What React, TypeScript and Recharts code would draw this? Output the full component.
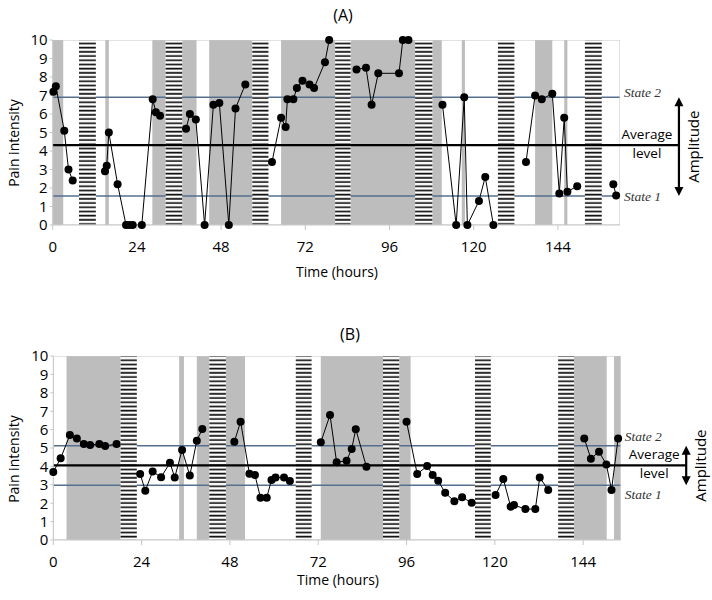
import React from 'react';
import { ComposedChart, Line, XAxis, YAxis, ReferenceArea, ReferenceLine } from 'recharts';

// ---------- shared ----------
const xTicks = [0, 24, 48, 72, 96, 120, 144];
const yTicks = [0, 1, 2, 3, 4, 5, 6, 7, 8, 9, 10];

// ---------- panel A ----------
const hoursA = [
  [0.2, 0.9, 3.3, 4.5, 5.7],
  [14.9, 15.4, 16.0, 18.5, 20.9, 21.8, 22.8, 25.4, 28.5, 29.4, 30.6],
  [38.0, 39.1, 40.8, 43.3, 45.8, 47.5, 50.2, 52.1, 54.9],
  [62.5, 65.1, 66.4, 66.9, 68.6, 69.6, 71.2, 73.2, 74.5, 77.6, 78.8],
  [86.6, 89.3, 90.9, 92.8, 98.7, 99.8, 101.4],
  [111.1, 115.0, 117.3, 118.2, 121.5, 123.3, 125.6],
  [134.9, 137.5, 139.4, 142.4, 144.4, 145.8, 146.7, 149.5],
  [159.8, 160.6],
];
const painA = [
  [7.2, 7.5, 5.1, 3.0, 2.4],
  [2.9, 3.2, 5.0, 2.2, 0, 0, 0, 0, 6.8, 6.1, 5.9],
  [5.2, 6.0, 5.7, 0, 6.5, 6.6, 0, 6.3, 7.6],
  [3.4, 5.8, 5.3, 6.8, 6.8, 7.4, 7.8, 7.6, 7.4, 8.8, 10.0],
  [8.4, 8.5, 6.5, 8.2, 8.2, 10, 10],
  [6.5, 0, 6.9, 0, 1.3, 2.6, 0],
  [3.4, 7.0, 6.8, 7.1, 1.7, 5.8, 1.8, 2.1],
  [2.2, 1.6],
];
const grayA = [
  [0, 3.0], [15.0, 16.0], [28.4, 32.2], [36.9, 41.0], [44.6, 56.9], [65.1, 80.5],
  [84.9, 103.3], [108.2, 110.9], [116.6, 117.5], [137.5, 142.4], [145.8, 146.7],
];
const hatchA = [
  [7.5, 12.3], [32.2, 36.9], [56.9, 61.5], [80.5, 84.9], [103.3, 108.2], [126.9, 131.6], [151.7, 156.5],
];
const state1A = 1.57;
const averageA = 4.32;
const state2A = 6.9;

// ---------- panel B ----------
const hoursB = [
  [0, 2.0, 4.5, 6.4, 8.3, 10.0, 12.5, 14.1, 17.2],
  [23.6, 25.0, 27.0, 29.3, 31.7, 33.0, 35.0, 37.1, 39.0, 40.5],
  [49.2, 50.9, 53.3, 54.8, 56.3, 58.0, 59.3, 60.4, 62.7, 64.3],
  [72.7, 75.2, 77.0, 79.7, 81.1, 82.2, 85.1],
  [96.0, 98.9, 101.6, 103.1, 104.6, 106.5, 109.0, 111.1, 113.7],
  [120.2, 122.3, 124.3, 125.2, 128.3, 131.0, 132.2, 134.5],
  [144.3, 146.1, 148.3, 150.3, 151.7, 153.5],
];
const painB = [
  [3.7, 4.44, 5.7, 5.52, 5.22, 5.16, 5.22, 5.11, 5.22],
  [3.59, 2.68, 3.72, 3.41, 4.2, 3.4, 4.89, 3.5, 5.4, 6.03],
  [5.34, 6.43, 3.6, 3.53, 2.3, 2.3, 3.26, 3.4, 3.4, 3.2],
  [5.31, 6.79, 4.22, 4.31, 4.95, 6.02, 3.98],
  [6.43, 3.59, 4.02, 3.53, 3.22, 2.57, 2.1, 2.32, 2.03],
  [2.45, 3.31, 1.81, 1.9, 1.68, 1.68, 3.4, 2.72],
  [5.52, 4.42, 4.8, 4.11, 2.72, 5.52],
];
const grayB = [
  [3.6, 18.3], [34.2, 35.5], [39.0, 42.4], [46.9, 52.1], [72.7, 89.6], [94.0, 97.1], [141.5, 150.4], [152.4, 154.2],
];
const hatchB = [
  [18.3, 22.7], [42.4, 46.9], [65.9, 70.2], [89.6, 94.0], [114.6, 118.9], [137.2, 141.5],
];
const state1B = 2.97;
const averageB = 4.06;
const state2B = 5.12;

// ---------- helpers ----------
function buildSeries(hours: number[][], pain: number[][]) {
  const out: { t: number; v: number | null }[] = [];
  hours.forEach((seg, i) => {
    seg.forEach((t, j) => out.push({ t, v: pain[i][j] }));
    if (i < hours.length - 1) out.push({ t: seg[seg.length - 1], v: null });
  });
  return out;
}

const FONT = "'Open Sans', sans-serif";
const GRAY = '#bdbdbd';
const FRAME = '#c6c6c6';
const STATE = '#55708f';

type PanelProps = {
  id: string;
  top: number;
  height: number;
  margin: { top: number; right: number; bottom: number; left: number };
  xMax: number;
  ampX: number;
  hours: number[][];
  pain: number[][];
  gray: number[][];
  hatch: number[][];
  s1: number;
  avg: number;
  s2: number;
  s1dy: number;
  s2dy: number;
};

function Panel(p: PanelProps) {
  const data = buildSeries(p.hours, p.pain);
  const hatchId = `hatch-${p.id}`;

  const stateLabel = (text: string, dy: number) => (props: any) => {
    const vb = props.viewBox || {};
    return (
      <text
        x={vb.x + vb.width + 4}
        y={vb.y + dy}
        dominantBaseline="central"
        fontFamily="'Liberation Serif', serif"
        fontStyle="italic"
        fontSize={13.5}
        fill="#333"
      >
        {text}
      </text>
    );
  };

  const avgLabel = (props: any) => {
    const vb = props.viewBox || {};
    const cx = vb.x + vb.width - 32;
    return (
      <g fontFamily={FONT} fontSize={13.5} fill="#000" textAnchor="middle">
        <text x={cx} y={vb.y - 11} dominantBaseline="central">Average</text>
        <text x={cx} y={vb.y + 8} dominantBaseline="central">level</text>
      </g>
    );
  };

  const ampLabel = (props: any) => {
    const vb = props.viewBox || {};
    const cx = vb.x + 14;
    const cy = vb.y + vb.height / 2;
    return (
      <text
        x={cx}
        y={cy}
        textAnchor="middle"
        dominantBaseline="central"
        fontFamily={FONT}
        fontSize={15}
        fill="#000"
        transform={`rotate(-90 ${cx} ${cy})`}
      >
        Amplitude
      </text>
    );
  };

  const arrowShape = (props: any) => {
    const x = props.x1;
    const yTop = Math.min(props.y1, props.y2);
    const yBot = Math.max(props.y1, props.y2);
    const hw = 4.5;
    const hh = 9;
    return (
      <g>
        <line x1={x} y1={yTop + hh - 1} x2={x} y2={yBot - hh + 1} stroke="#000" strokeWidth={2.2} />
        <polygon points={`${x},${yTop} ${x - hw},${yTop + hh} ${x + hw},${yTop + hh}`} fill="#000" />
        <polygon points={`${x},${yBot} ${x - hw},${yBot - hh} ${x + hw},${yBot - hh}`} fill="#000" />
      </g>
    );
  };

  return (
    <div style={{ position: 'absolute', left: 0, top: p.top }}>
      <ComposedChart width={712} height={p.height} data={data} margin={p.margin}>
        <defs>
          <pattern id={hatchId} patternUnits="userSpaceOnUse" width={6} height={4.2}>
            <rect x={0} y={0} width={6} height={4.2} fill="#ffffff" />
            <rect x={0} y={0.6} width={6} height={1.7} fill="#111111" />
          </pattern>
        </defs>
        {p.gray.map(([a, b], i) => (
          <ReferenceArea
            key={`g${i}`}
            x1={a}
            x2={b}
            y1={0}
            y2={10}
            fill={GRAY}
            fillOpacity={1}
            stroke="none"
            ifOverflow="hidden"
            zIndex={100}
          />
        ))}
        <ReferenceLine
          y={p.s2}
          stroke={STATE}
          strokeWidth={1.5}
          zIndex={110}
          label={stateLabel('State 2', p.s2dy)}
        />
        <ReferenceLine
          y={p.s1}
          stroke={STATE}
          strokeWidth={1.5}
          zIndex={110}
          label={stateLabel('State 1', p.s1dy)}
        />
        {p.hatch.map(([a, b], i) => (
          <ReferenceArea
            key={`h${i}`}
            x1={a}
            x2={b}
            y1={0}
            y2={10}
            fill={`url(#${hatchId})`}
            fillOpacity={1}
            stroke="none"
            ifOverflow="hidden"
            zIndex={120}
          />
        ))}
        <ReferenceArea
          x1={0}
          x2={p.xMax}
          y1={0}
          y2={10}
          fill="none"
          stroke={FRAME}
          strokeWidth={1}
          ifOverflow="hidden"
          zIndex={125}
        />
        <ReferenceLine
          segment={[{ x: 0, y: p.avg }, { x: p.ampX, y: p.avg }]}
          stroke="#000"
          strokeWidth={2.2}
          ifOverflow="visible"
          zIndex={130}
          label={avgLabel}
        />
        <ReferenceLine
          segment={[{ x: p.ampX, y: p.s2 }, { x: p.ampX, y: p.s1 }]}
          ifOverflow="visible"
          zIndex={130}
          shape={arrowShape}
          label={ampLabel}
        />
        <XAxis
          dataKey="t"
          type="number"
          domain={[0, p.xMax]}
          ticks={xTicks}
          interval={0}
          height={30}
          tickSize={5}
          tickMargin={11}
          stroke={FRAME}
          tick={{ fill: '#000', fontSize: 15, fontFamily: FONT }}
        />
        <YAxis
          type="number"
          domain={[0, 10]}
          ticks={yTicks}
          interval={0}
          width={40}
          tickSize={3}
          tickMargin={2}
          stroke={FRAME}
          tick={{ fill: '#000', fontSize: 15, fontFamily: FONT }}
        />
        <Line
          dataKey="v"
          type="linear"
          stroke="#000"
          strokeWidth={1}
          dot={{ r: 4, fill: '#000', stroke: '#000', strokeWidth: 0 }}
          connectNulls={false}
          isAnimationActive={false}
          zIndex={400}
        />
      </ComposedChart>
    </div>
  );
}

export default function App() {
  return (
    <div style={{ position: 'absolute', left: 0, top: 0, width: 712, height: 600, background: '#fff' }}>
      <Panel
        id="A"
        top={0}
        height={300}
        margin={{ top: 40, right: 92, bottom: 45, left: 12.7 }}
        xMax={161.7}
        ampX={178.5}
        hours={hoursA}
        pain={painA}
        gray={grayA}
        hatch={hatchA}
        s1={state1A}
        avg={averageA}
        s2={state2A}
        s1dy={1}
        s2dy={-5}
      />
      <Panel
        id="B"
        top={300}
        height={300}
        margin={{ top: 56, right: 91.3, bottom: 30, left: 13.3 }}
        xMax={154.2}
        ampX={172.0}
        hours={hoursB}
        pain={painB}
        gray={grayB}
        hatch={hatchB}
        s1={state1B}
        avg={averageB}
        s2={state2B}
        s1dy={9}
        s2dy={-9}
      />
      <svg
        width={712}
        height={600}
        style={{ position: 'absolute', left: 0, top: 0, pointerEvents: 'none' }}
        fontFamily={FONT}
      >
        <text x={343} y={15} textAnchor="middle" dominantBaseline="central" fontSize={16}>(A)</text>
        <text x={350} y={334} textAnchor="middle" dominantBaseline="central" fontSize={16}>(B)</text>
        <text x={13} y={143} textAnchor="middle" dominantBaseline="central" fontSize={14} transform="rotate(-90 13 143)">Pain intensity</text>
        <text x={13} y={459} textAnchor="middle" dominantBaseline="central" fontSize={14} transform="rotate(-90 13 459)">Pain intensity</text>
        <text x={337} y={271} textAnchor="middle" dominantBaseline="central" fontSize={14}>Time (hours)</text>
        <text x={338} y={579} textAnchor="middle" dominantBaseline="central" fontSize={14}>Time (hours)</text>
      </svg>
    </div>
  );
}
